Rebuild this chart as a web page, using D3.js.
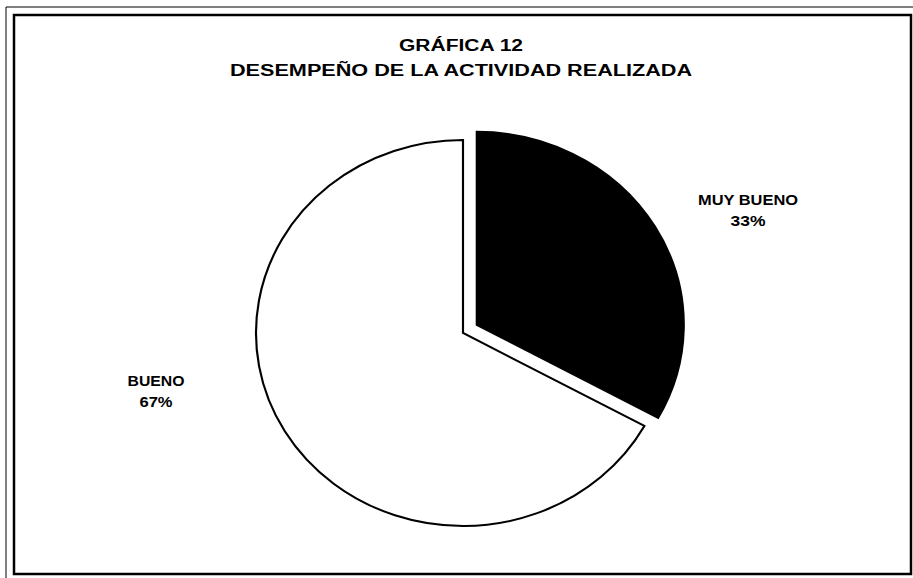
<!DOCTYPE html>
<html>
<head>
<meta charset="utf-8">
<script src="https://cdn.jsdelivr.net/npm/d3@7"></script>
<style>
  body { margin: 0; background: #fff; }
  text { font-family: "Liberation Sans", Arial, sans-serif; font-weight: bold; fill: #000; }
</style>
</head>
<body>
<script>
// Chart data
var categories = ["MUY BUENO", "BUENO"];
var values = [33, 67];
var labels = ["33%", "67%"];
var fills = ["#000", "#fff"];
var titleLines = ["GRÁFICA  12", "DESEMPEÑO DE LA ACTIVIDAD REALIZADA"];

var width = 913, height = 578;

var svg = d3.select("body").append("svg")
    .attr("width", width)
    .attr("height", height);

// Frame (thin outer line + thick inner border)
svg.append("path")
    .attr("d", "M6,578 L6,7 L913,7")
    .attr("fill", "none")
    .attr("stroke", "#000")
    .attr("stroke-width", 1);
svg.append("rect")
    .attr("x", 14).attr("y", 15)
    .attr("width", 897).attr("height", 559)
    .attr("fill", "none")
    .attr("stroke", "#000")
    .attr("stroke-width", 2.5);

// Title
svg.selectAll(".title")
    .data(titleLines)
    .enter().append("text")
    .attr("class", "title")
    .attr("x", 461)
    .attr("y", function(d, i) { return 51 + i * 25; })
    .attr("text-anchor", "middle")
    .attr("font-size", 16)
    .attr("textLength", function(d, i) { return i === 0 ? 124 : 462; })
    .attr("lengthAdjust", "spacingAndGlyphs")
    .text(function(d) { return d; });

// Pie, slightly stretched horizontally like the original
var ry = 193, sx = 207 / 193;
var cx = 463, cy = 333;

var pie = d3.pie().sort(null).value(function(d) { return d; });
var arcs = pie(values);
var arc = d3.arc().innerRadius(0).outerRadius(ry);

var g = svg.append("g")
    .attr("transform", "translate(" + cx + "," + cy + ") scale(" + sx + ",1)");

g.selectAll("path")
    .data(arcs)
    .enter().append("path")
    .attr("d", arc)
    .attr("fill", function(d, i) { return fills[i]; })
    .attr("stroke", "#000")
    .attr("stroke-width", 2)
    .attr("stroke-linejoin", "miter")
    .attr("transform", function(d, i) {
        // explode the first slice
        if (i !== 0) return null;
        var a = (d.startAngle + d.endAngle) / 2, off = 16;
        return "translate(" + (Math.sin(a) * off / sx) + "," + (-Math.cos(a) * off) + ")";
    });

// Labels
var labelPos = [[748, 205], [156, 386]];
var nameWidth = [100, 57], pctWidth = [35, 33];
var lg = svg.selectAll(".lbl")
    .data(categories)
    .enter().append("g")
    .attr("class", "lbl");

lg.append("text")
    .attr("x", function(d, i) { return labelPos[i][0]; })
    .attr("y", function(d, i) { return labelPos[i][1]; })
    .attr("text-anchor", "middle")
    .attr("font-size", 14)
    .attr("textLength", function(d, i) { return nameWidth[i]; })
    .attr("lengthAdjust", "spacingAndGlyphs")
    .text(function(d) { return d; });

lg.append("text")
    .attr("x", function(d, i) { return labelPos[i][0]; })
    .attr("y", function(d, i) { return labelPos[i][1] + 21; })
    .attr("text-anchor", "middle")
    .attr("font-size", 14)
    .attr("textLength", function(d, i) { return pctWidth[i]; })
    .attr("lengthAdjust", "spacingAndGlyphs")
    .text(function(d, i) { return labels[i]; });
</script>
</body>
</html>
